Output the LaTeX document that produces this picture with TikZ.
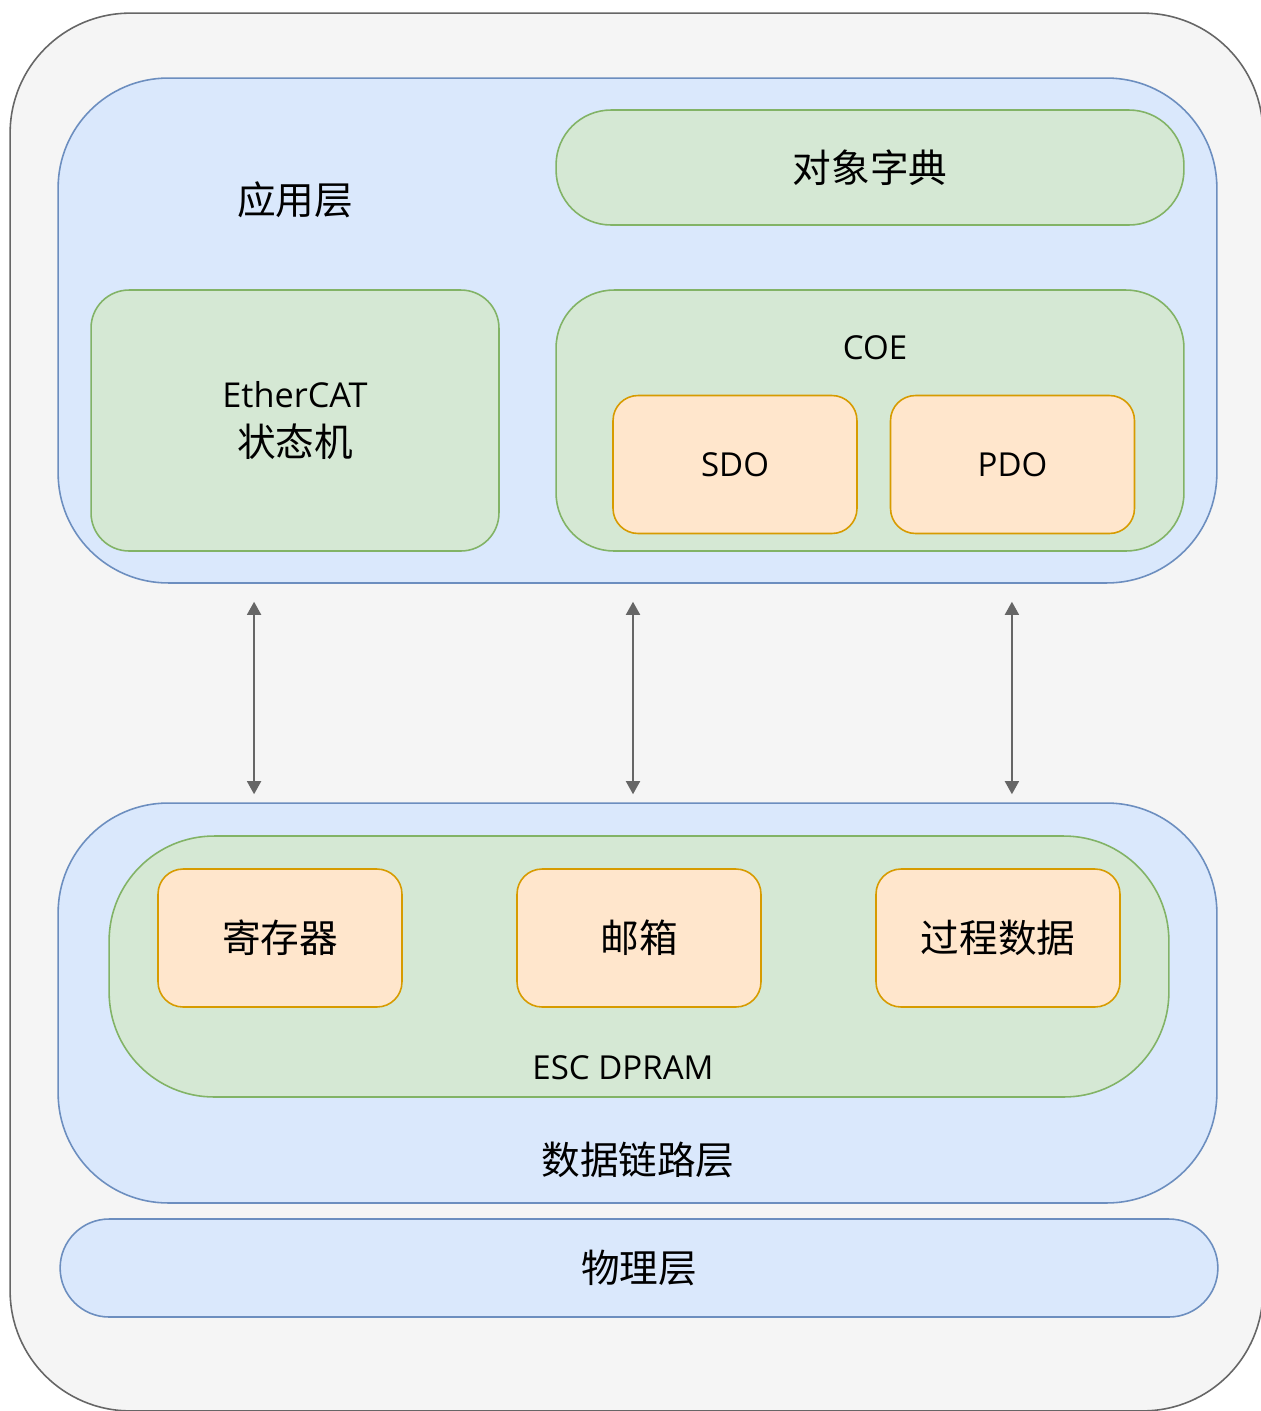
\documentclass[tikz,border=0pt]{standalone}
\usepackage{fontspec}
\setmainfont{Open Sans}
\newfontfamily\cjk{Noto Sans CJK SC}
\usetikzlibrary{arrows.meta}

\definecolor{framefill}{HTML}{F5F5F5}
\definecolor{framedraw}{HTML}{666666}
\definecolor{bluefill}{HTML}{DAE8FC}
\definecolor{bluedraw}{HTML}{6C8EBF}
\definecolor{greenfill}{HTML}{D5E8D4}
\definecolor{greendraw}{HTML}{82B366}
\definecolor{orangefill}{HTML}{FFE6CC}
\definecolor{orangedraw}{HTML}{D79B00}

\tikzset{
    layer/.style={line width=0.9pt, inner sep=0pt},
    framebox/.style={layer, fill=framefill, draw=framedraw},
    bluebox/.style={layer, fill=bluefill, draw=bluedraw},
    greenbox/.style={layer, fill=greenfill, draw=greendraw},
    orangebox/.style={layer, fill=orangefill, draw=orangedraw,
        minimum width=4.88cm, minimum height=2.76cm, rounded corners=0.5cm},
    latin/.style={font=\fontsize{18.8pt}{22pt}\selectfont},
    hanzi/.style={font=\cjk\fontsize{22pt}{26pt}\selectfont},
    updown/.style={draw=framedraw, line width=1.1pt,
        {Triangle[width=8pt,length=7.5pt]}-{Triangle[width=8pt,length=7.5pt]},
        shorten <=0.36cm, shorten >=0.16cm}
}

\begin{document}
\begin{tikzpicture}[x=0.02cm, y=-0.02cm]
                \clip (0,0) rectangle (1261,1411);

                \node[framebox, minimum width=25.06cm, minimum height=27.96cm, rounded corners=2.4cm] at (636.5,712) (frame) {};

                \node[bluebox, minimum width=23.18cm, minimum height=10.1cm, rounded corners=2.2cm] at (637.5,330.5) (app) {};
                \node[hanzi] at (295,200) (applabel) {应用层};
                \node[greenbox, hanzi, minimum width=12.56cm, minimum height=2.3cm, rounded corners=1.1cm] at (870,167.5) (dict) {对象字典};
                \node[greenbox, font=\fontsize{19.5pt}{22pt}\selectfont, align=center, minimum width=8.16cm, minimum height=5.22cm, rounded corners=0.76cm] at (295,420.5) (fsm) {EtherCAT\\[6pt]{\cjk\fontsize{22pt}{26pt}\selectfont 状态机}};
                \node[greenbox, minimum width=12.56cm, minimum height=5.22cm, rounded corners=1.16cm] at (870,420.5) (coe) {};
                \node[latin] at (875,348) (coelabel) {COE};
                \node[orangebox, latin] at (735,464.5) (sdo) {SDO};
                \node[orangebox, latin] at (1012.5,464.5) (pdo) {PDO};

                \node[bluebox, minimum width=23.18cm, minimum height=8cm, rounded corners=2.2cm] at (637.5,1003) (link) {};
                \node[hanzi] at (638,1160) (linklabel) {数据链路层};
                \node[greenbox, minimum width=21.2cm, minimum height=5.22cm, rounded corners=2.1cm] at (639,966.5) (dpram) {};
                \node[latin] at (623,1068) (dpramlabel) {ESC DPRAM};
                \node[orangebox, hanzi] at (280,938) (reg) {寄存器};
                \node[orangebox, hanzi] at (639,938) (mbox) {邮箱};
                \node[orangebox, hanzi] at (998,938) (pdata) {过程数据};

                \node[bluebox, hanzi, minimum width=23.16cm, minimum height=1.96cm, rounded corners=0.98cm] at (639,1268) (phy) {物理层};

                \draw[updown] ([xshift=-7.67cm]app.south) -- ([xshift=-7.67cm]link.north);
                \draw[updown] ([xshift=-0.09cm]app.south) -- ([xshift=-0.09cm]link.north);
                \draw[updown] ([xshift=7.49cm]app.south) -- ([xshift=7.49cm]link.north);

            \end{tikzpicture}
\end{document}
